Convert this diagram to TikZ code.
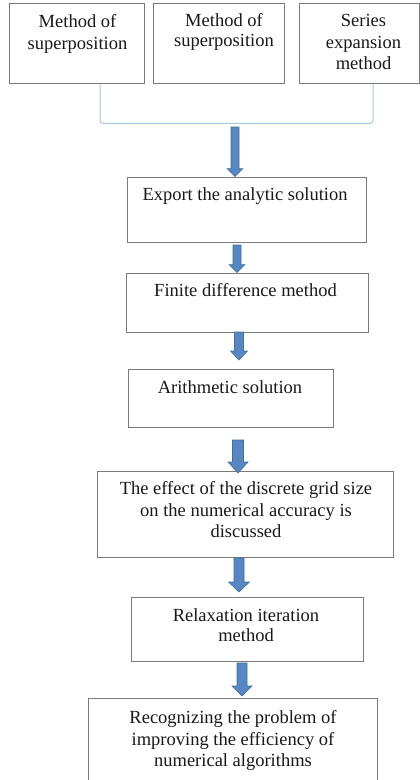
\documentclass[tikz,border=0pt]{standalone}
\usepackage{fontspec}
\setmainfont{Liberation Serif}
\usetikzlibrary{calc}

\definecolor{boxline}{HTML}{7A7A7A}
\definecolor{brace}{HTML}{A9C8E8}
\definecolor{arrowfill}{HTML}{5687C2}
\definecolor{arrowedge}{HTML}{41719C}

\tikzset{
  stepbox/.style={draw=boxline, line width=0.9pt, fill=white, inner sep=0pt},
  steptext/.style={anchor=north, align=center, inner sep=0pt,
    font=\fontsize{18.5}{21.5}\selectfont, text=black!90},
  bracketline/.style={draw=brace, line width=1pt, rounded corners=3pt},
  blockarrowstyle/.style={fill=arrowfill, draw=arrowedge, line width=0.6pt, line join=miter}
}

% block arrow: start, end, shaft half width, head half width, head length
\newcommand{\blockarrow}[5]{%
  \filldraw[blockarrowstyle]
    ($(#1)+(-#3,0)$) -- ($(#2)+(-#3,-#5)$) -- ($(#2)+(-#4,-#5)$) -- (#2)
    -- ($(#2)+(#4,-#5)$) -- ($(#2)+(#3,-#5)$) -- ($(#1)+(#3,0)$) -- cycle;}

\begin{document}
\begin{tikzpicture}[x=1pt,y=-1pt]
  \clip (0,0) rectangle (420,780);
  \fill[white] (0,0) rectangle (420,780);

  % three starting methods
  \node[stepbox, minimum width=135pt, minimum height=80pt] (m1) at (77,43.5) {};
  \node[stepbox, minimum width=131pt, minimum height=80pt] (m2) at (219,43.5) {};
  \node[stepbox, minimum width=120pt, minimum height=80pt] (m3) at (359.5,43.5) {};
  \node[steptext] (m1t) at (77.5,14.4) {Method of\\superposition};
  \node[steptext, font=\fontsize{18.5}{20}\selectfont] (m2t) at (224,13.4) {Method of\\superposition};
  \node[steptext] (m3t) at (363.5,14.4) {Series\\expansion\\method};

  % bracket joining the three methods
  \draw[bracketline] ([xshift=23pt]m1.south) -- ++(0,39.5) -| ([xshift=13.5pt]m3.south);

  % main chain of steps
  \node[stepbox, minimum width=239pt, minimum height=65pt] (exp) at (246.5,209.5) {};
  \node[steptext] (expt) at (245,187.4) {Export the analytic solution};

  \node[stepbox, minimum width=242pt, minimum height=59pt] (fdm) at (247,302.5) {};
  \node[steptext] (fdmt) at (245.5,283.4) {Finite difference method};

  \node[stepbox, minimum width=205pt, minimum height=58pt] (ari) at (230.5,398) {};
  \node[steptext] (arit) at (230,380.4) {Arithmetic solution};

  \node[stepbox, minimum width=296pt, minimum height=86pt] (eff) at (245,514) {};
  \node[steptext] (efft) at (246,481.4) {The effect of the discrete grid size\\on the numerical accuracy is\\discussed};

  \node[stepbox, minimum width=232pt, minimum height=64pt] (rel) at (247,629) {};
  \node[steptext, font=\fontsize{18.5}{20}\selectfont] (relt) at (246,608.4) {Relaxation iteration\\method};

  \node[stepbox, minimum width=289pt, minimum height=102pt] (rec) at (232.5,749) {};
  \node[steptext] (rect) at (233,710.4) {Recognizing the problem of\\improving the efficiency of\\numerical algorithms};

  % arrows between the steps
  \coordinate (a1s) at (235,127);  \coordinate (a1e) at (a1s |- exp.north);
  \coordinate (a2s) at (237,245);  \coordinate (a2e) at (a2s |- fdm.north);
  \coordinate (a3s) at (239,332);  \coordinate (a3e) at (239,360);
  \coordinate (a4s) at (238,440);  \coordinate (a4e) at (238,473);
  \coordinate (a5s) at (239,558);  \coordinate (a5e) at (239,592);
  \coordinate (a6s) at (242,663);  \coordinate (a6e) at (242,696);

  \blockarrow{a1s}{a1e}{4}{8}{8}
  \blockarrow{a2s}{a2e}{4}{8}{8}
  \blockarrow{a3s}{a3e}{4.5}{8.5}{9}
  \blockarrow{a4s}{a4e}{5.5}{10}{11}
  \blockarrow{a5s}{a5e}{5}{10.5}{10}
  \blockarrow{a6s}{a6e}{5}{10}{10}
\end{tikzpicture}
\end{document}
